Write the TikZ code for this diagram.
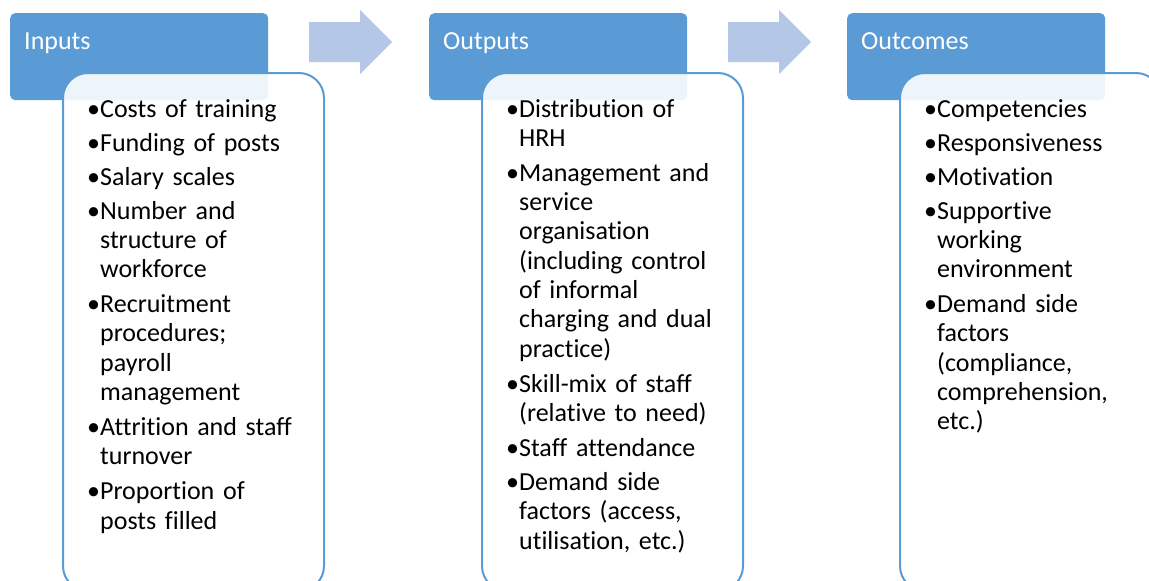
\documentclass[tikz,border=0pt]{standalone}
\usepackage{fontspec}
\setmainfont{Carlito}[Ligatures=CommonOff]
\definecolor{hdrblue}{RGB}{91,155,213}
\definecolor{arrowblue}{RGB}{180,199,231}
\newcommand{\bulletitem}[1]{\noindent\textbullet\begin{tabular}[t]{@{}l@{}}#1\end{tabular}\par\vspace{4.7pt}}

\begin{document}
\begin{tikzpicture}[x=1pt, y=-1pt,
headbox/.style={fill=hdrblue, rounded corners=5pt, inner sep=0pt, minimum width=258pt, minimum height=87pt, anchor=north west},
bodybox/.style={draw=hdrblue, line width=2pt, fill=white, fill opacity=0.9, rounded corners=25pt, inner sep=0pt, minimum width=261pt, minimum height=518pt, anchor=north west},
headtext/.style={text=white, anchor=base west, inner sep=0pt, font=\fontsize{26}{29.3}\selectfont},
listtext/.style={anchor=base west, inner sep=0pt, text width=250pt, font=\fontsize{26}{29.3}\selectfont},
bigarrow/.style={fill=arrowblue}
]
\useasboundingbox (0,0) rectangle (1149,581);
\begin{scope}
\clip (0,0) rectangle (1149,581);

        % headers
        \node [headbox] (inputs) at (10, 13) {};
        \node [headbox] (outputs) at (429, 13) {};
        \node [headbox] (outcomes) at (847, 13) {};

        % block arrows between the columns
        \foreach \dx in {0, 419}
            \fill [bigarrow, shift={(\dx,0)}] (309,22) -- (360,22) -- (360,10) -- (392,42)
                -- (360,74) -- (360,62) -- (309,62) -- cycle;

        % bodies
        \node [bodybox] (inputs-body) at (62, 72) {};
        \node [bodybox] (outputs-body) at (481, 72) {};
        \node [bodybox] (outcomes-body) at (899, 72) {};

        \node [headtext] (inputs-title) at (24, 49) {Inputs};
        \node [headtext] (outputs-title) at (443, 49) {Outputs};
        \node [headtext] (outcomes-title) at (861, 49) {Outcomes};

        \node [listtext] (inputs-list) at (87, 117) {%
            \bulletitem{Costs of training}
            \bulletitem{Funding of posts}
            \bulletitem{Salary scales}
            \bulletitem{Number and\\structure of\\workforce}
            \bulletitem{Recruitment\\procedures;\\payroll\\management}
            \bulletitem{Attrition and staff\\turnover}
            \bulletitem{Proportion of\\posts filled}};

        \node [listtext] (outputs-list) at (506, 117) {%
            \bulletitem{Distribution of\\HRH}
            \bulletitem{Management and\\service\\organisation\\(including control\\of informal\\charging and dual\\practice)}
            \bulletitem{Skill-mix of staff\\(relative to need)}
            \bulletitem{Staff attendance}
            \bulletitem{Demand side\\factors (access,\\utilisation, etc.)}};

        \node [listtext] (outcomes-list) at (924, 117) {%
            \bulletitem{Competencies}
            \bulletitem{Responsiveness}
            \bulletitem{Motivation}
            \bulletitem{Supportive\\working\\environment}
            \bulletitem{Demand side\\factors\\(compliance,\\comprehension,\\etc.)}};
\end{scope}
\end{tikzpicture}
\end{document}
